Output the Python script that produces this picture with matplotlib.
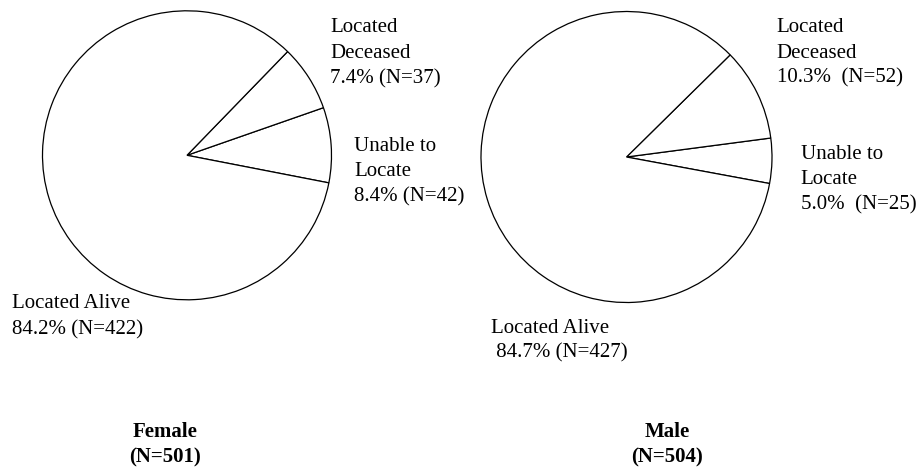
import matplotlib
matplotlib.use("Agg")
import matplotlib.pyplot as plt

plt.rcParams['font.family'] = ['Liberation Serif', 'DejaVu Serif']

# ---- data ----
categories = ["Unable to Locate", "Located Deceased", "Located Alive"]
female_pct = [8.4, 7.4, 84.2]
female_n = [42, 37, 422]
male_pct = [5.0, 10.3, 84.7]
male_n = [25, 52, 427]
group_names = ["Female", "Male"]
group_totals = [501, 504]

# label line texts
female_label_lines = [
    ["Unable to", "Locate", f"{female_pct[0]:.1f}% (N={female_n[0]})"],
    ["Located", "Deceased", f"{female_pct[1]:.1f}% (N={female_n[1]})"],
    ["Located Alive", f"{female_pct[2]:.1f}% (N={female_n[2]})"],
]
male_label_lines = [
    ["Unable to", "Locate", f"{male_pct[0]:.1f}%  (N={male_n[0]})"],
    ["Located", "Deceased", f"{male_pct[1]:.1f}%  (N={male_n[1]})"],
    ["Located Alive", f" {male_pct[2]:.1f}% (N={male_n[2]})"],
]

W, H = 919, 468
fig = plt.figure(figsize=(W / 100, H / 100), dpi=100)
ax = fig.add_axes([0, 0, 1, 1])

wp = dict(facecolor='white', edgecolor='black', linewidth=0.9)
ax.pie(female_pct, startangle=-11, counterclock=True, center=(187, H - 155.3),
       radius=144.5, wedgeprops=wp, frame=True)
ax.pie(male_pct, startangle=-10.5, counterclock=True, center=(626.5, H - 157),
       radius=145.5, wedgeprops=wp, frame=True)

ax.set_xlim(0, W)
ax.set_ylim(0, H)
ax.set_aspect('equal')
ax.axis('off')

fs = 15

def put_lines(x, baselines, lines, **kw):
    for b, t in zip(baselines, lines):
        ax.text(x, H - b, t, fontsize=fs, ha='left', va='baseline', **kw)

# Female labels
put_lines(354, [150.7, 175.7, 201], female_label_lines[0])
put_lines(330, [32.3, 58.3, 83.3], female_label_lines[1])
put_lines(12.5, [308.5, 334.5], female_label_lines[2])

# Male labels
put_lines(800.7, [159, 184.3, 209.3], male_label_lines[0])
put_lines(776.7, [32.3, 57.7, 82.7], male_label_lines[1])
put_lines(490.7, [333, 357.5], male_label_lines[2])

# group titles
for cx, name, tot in zip([165, 667], group_names, group_totals):
    ax.text(cx, H - 437, name, fontsize=fs, fontweight='bold', ha='center', va='baseline')
    ax.text(cx, H - 462, f"(N={tot})", fontsize=fs, fontweight='bold', ha='center', va='baseline')

fig.savefig("out.png", dpi=100, facecolor='white')
